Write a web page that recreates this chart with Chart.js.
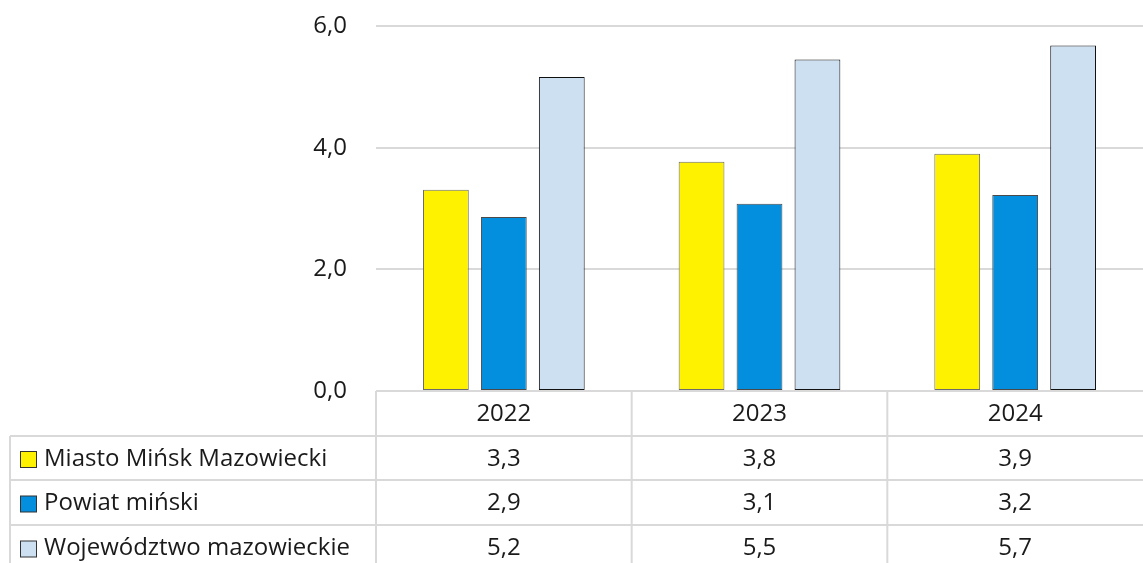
<!DOCTYPE html>
<html>
<head>
<meta charset="utf-8">
<script src="https://cdn.jsdelivr.net/npm/chart.js@4.4.1/dist/chart.umd.min.js"></script>
<style>
    html, body { margin: 0; padding: 0; background: #fff; }
    #wrap { width: 1143px; height: 563px; position: relative; }
</style>
</head>
<body>
<div id="wrap"><canvas id="myChart"></canvas></div>
<script>
const years = ['2022', '2023', '2024'];
const seriesNames = ['Miasto Mińsk Mazowiecki', 'Powiat miński', 'Województwo mazowieckie'];
const miasto = [3.31, 3.77, 3.90];
const powiat = [2.86, 3.08, 3.22];
const wojewodztwo = [5.16, 5.45, 5.68];
const yTicks = [0, 2, 4, 6];

const fill = ['#FFF200', '#048EDE', '#CCE0F1'];
const edge = ['#6b6b6b', '#4a4a4a', '#111111'];
const FONT = "'Open Sans', sans-serif";
const FONT_SIZE = 24;
const gridColor = '#d9d9d9';
const textColor = '#1a1a1a';

const fmt = (v) => v.toFixed(1).replace('.', ',');

// table geometry (rows under the plot)
const tableLeft = 10;
const rowTops = [391, 436, 480, 525, 570];

const dataTable = {
    id: 'dataTable',
    afterDraw(chart) {
        const ctx = chart.ctx;
        const x = chart.scales.x;
        const area = chart.chartArea;
        const right = area.right;
        ctx.save();
        ctx.strokeStyle = gridColor;
        ctx.lineWidth = 2;
        // horizontal lines
        for (let i = 1; i < rowTops.length; i++) {
            ctx.beginPath();
            ctx.moveTo(tableLeft, rowTops[i]);
            ctx.lineTo(right, rowTops[i]);
            ctx.stroke();
        }
        // vertical lines
        ctx.beginPath();
        ctx.moveTo(tableLeft, rowTops[1]);
        ctx.lineTo(tableLeft, 563);
        ctx.stroke();
        const half = (x.getPixelForValue(1) - x.getPixelForValue(0)) / 2;
        for (let i = 0; i < years.length; i++) {
            const bx = x.getPixelForValue(i) - half;
            ctx.beginPath();
            ctx.moveTo(bx, rowTops[0]);
            ctx.lineTo(bx, 563);
            ctx.stroke();
        }
        // header years
        ctx.fillStyle = textColor;
        ctx.font = FONT_SIZE + 'px ' + FONT;
        ctx.textAlign = 'center';
        ctx.textBaseline = 'middle';
        years.forEach((yr, i) => {
            ctx.fillText(yr, x.getPixelForValue(i), (rowTops[0] + rowTops[1]) / 2 + 1);
        });
        // series rows
        chart.data.datasets.forEach((ds, r) => {
            const cy = (rowTops[r + 1] + rowTops[r + 2]) / 2 + 1;
            ctx.fillStyle = ds.backgroundColor;
            ctx.fillRect(20.5, cy - 7.5, 16, 16);
            ctx.strokeStyle = '#333';
            ctx.lineWidth = 1;
            ctx.strokeRect(20.5, cy - 7.5, 16, 16);
            ctx.fillStyle = textColor;
            ctx.textAlign = 'left';
            ctx.fillText(ds.label, 44, cy);
            ctx.textAlign = 'center';
            ds.data.forEach((v, i) => {
                ctx.fillText(fmt(v), x.getPixelForValue(i), cy);
            });
        });
        ctx.restore();
    },
};

const data = {
    labels: years,
    datasets: [
        { label: seriesNames[0], data: miasto, backgroundColor: fill[0], borderColor: edge[0] },
        { label: seriesNames[1], data: powiat, backgroundColor: fill[1], borderColor: edge[1] },
        { label: seriesNames[2], data: wojewodztwo, backgroundColor: fill[2], borderColor: edge[2] },
    ],
};

const config = {
    type: 'bar',
    data,
    options: {
        responsive: true,
        maintainAspectRatio: false,
        animation: false,
        layout: { padding: { top: 26, right: 0, bottom: 172, left: 0 } },
        datasets: {
            bar: { borderWidth: 1, borderSkipped: false, categoryPercentage: 0.68, barPercentage: 0.79 },
        },
        plugins: {
            legend: { display: false },
            tooltip: { enabled: false },
        },
        scales: {
            x: {
                display: false,
                offset: true,
            },
            y: {
                min: 0,
                max: 6,
                afterFit: (scale) => {
                    scale.width = 376;
                    scale.paddingTop = 0;
                    scale.paddingBottom = 0;
                },
                afterBuildTicks: (scale) => { scale.ticks = yTicks.map((v) => ({ value: v })); },
                border: { display: false },
                grid: { color: gridColor, lineWidth: 2, drawTicks: false },
                ticks: {
                    padding: 29,
                    color: textColor,
                    font: { family: FONT, size: FONT_SIZE },
                    callback: (v) => fmt(v),
                },
            },
        },
    },
    plugins: [dataTable],
};

const myChart = new Chart(document.getElementById('myChart'), config);
</script>
</body>
</html>
